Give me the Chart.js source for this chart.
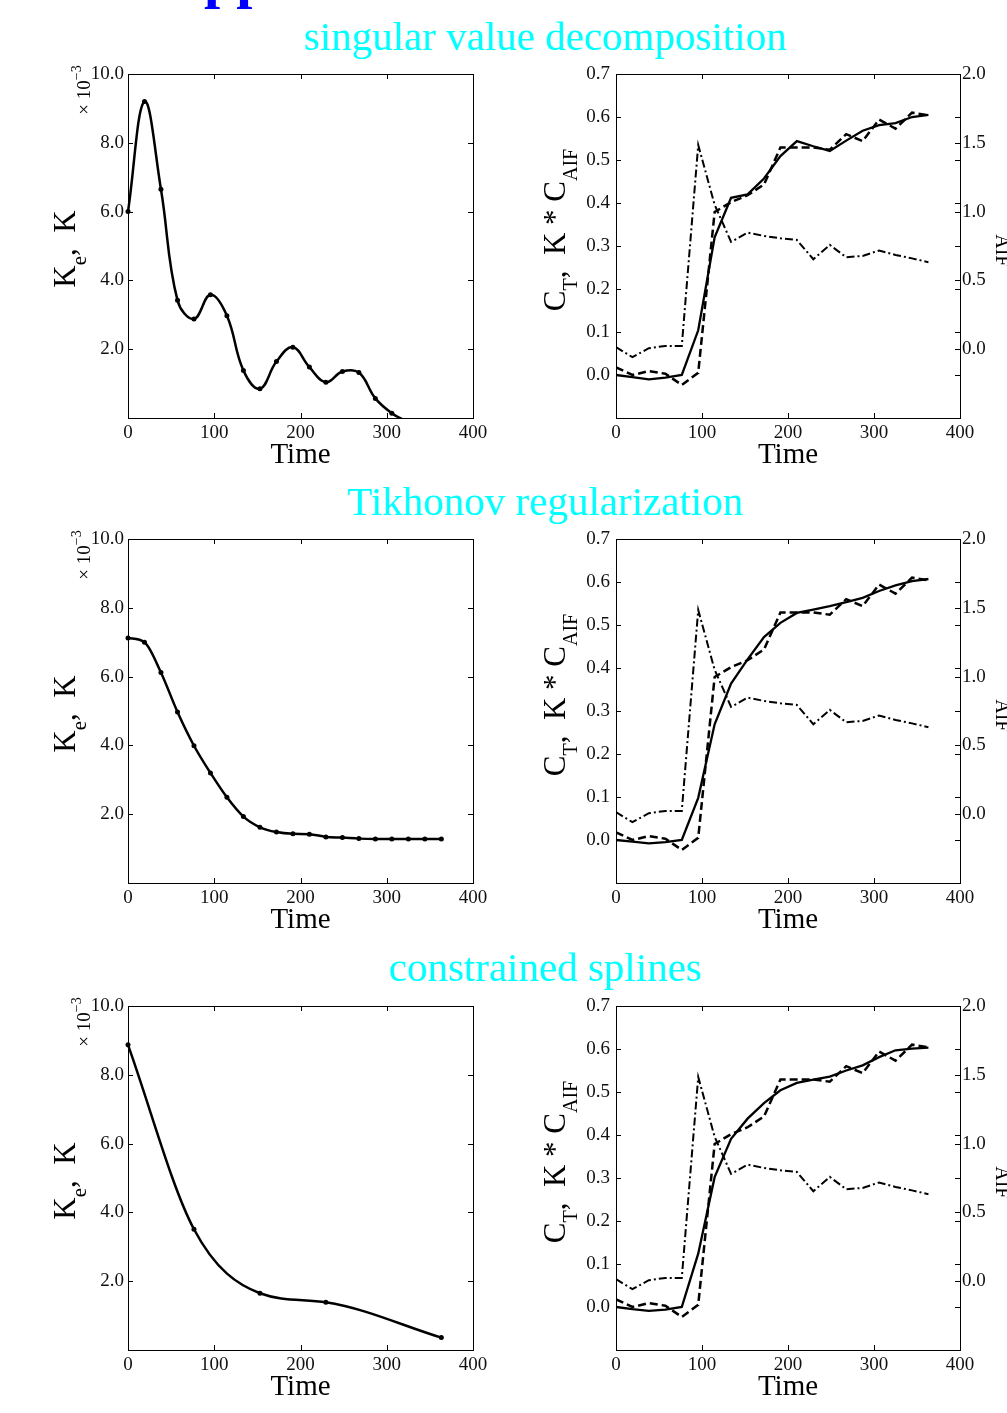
<!DOCTYPE html>
<html>
<head>
<meta charset="utf-8">
<script src="https://cdn.jsdelivr.net/npm/chart.js@4.4.1/dist/chart.umd.min.js"></script>
<style>
    html, body { margin: 0; padding: 0; background: #fff; }
    body { position: relative; width: 1007px; height: 1413px; overflow: hidden; }
    canvas { position: absolute; }
    .title {
        position: absolute;
        left: 545px;
        transform: translateX(-50%);
        white-space: nowrap;
        font-family: 'Liberation Serif', 'Times New Roman', serif;
        font-size: 41px;
        line-height: 41px;
        color: #00ffff;
    }
    .banner {
        position: absolute;
        left: 204px;
        top: -51px;
        white-space: nowrap;
        font-family: 'Liberation Serif', 'Times New Roman', serif;
        font-weight: bold;
        font-size: 58px;
        line-height: 58px;
        color: #0000ff;
    }
</style>
</head>
<body>
<div class="banner">pp</div>
<div class="title" style="top: 16px;">singular value decomposition</div>
<div class="title" style="top: 481px;">Tikhonov regularization</div>
<div class="title" style="top: 947px;">constrained splines</div>

<canvas id="svd-k" width="453" height="408" style="left: 40px; top: 62px;"></canvas>
<canvas id="svd-ct" width="477" height="408" style="left: 530px; top: 62px;"></canvas>
<canvas id="tik-k" width="453" height="408" style="left: 40px; top: 527px;"></canvas>
<canvas id="tik-ct" width="477" height="408" style="left: 530px; top: 527px;"></canvas>
<canvas id="spl-k" width="453" height="408" style="left: 40px; top: 994px;"></canvas>
<canvas id="spl-ct" width="477" height="408" style="left: 530px; top: 994px;"></canvas>

<script>
'use strict';

// sampling times shared by every panel
var times = [0, 19.1, 38.2, 57.4, 76.5, 95.6, 114.7, 133.8, 153, 172.1,
    191.2, 210.3, 229.4, 248.6, 267.7, 286.8, 305.9, 325, 344.2, 363.3];

// residue functions K (x 10^-3)
var svdK = [6.0, 9.2, 6.65, 3.42, 2.88, 3.58, 2.97, 1.38, 0.85, 1.64,
    2.06, 1.48, 1.04, 1.35, 1.32, 0.57, 0.14, -0.12, -0.35, -0.3];
var tikhonovK = [7.12, 7.0, 6.12, 4.97, 3.99, 3.2, 2.49, 1.93, 1.62, 1.48,
    1.43, 1.42, 1.34, 1.32, 1.29, 1.28, 1.28, 1.28, 1.28, 1.28];
var splineKnotTimes = [0, 76.5, 153, 229.4, 363.3];
var splineK = [8.87, 3.51, 1.65, 1.39, 0.36];

// measured tissue curve and arterial input
var measuredCT = [0.018, 0.0, 0.009, 0.003, -0.023, 0.005, 0.379, 0.402, 0.418, 0.443,
    0.529, 0.529, 0.529, 0.524, 0.56, 0.544, 0.594, 0.573, 0.61, 0.604];
var aifC = [0.015, -0.058, 0.007, 0.024, 0.024, 1.484, 1.05, 0.78, 0.847, 0.823,
    0.806, 0.794, 0.654, 0.758, 0.668, 0.678, 0.717, 0.685, 0.66, 0.632];

// fitted K * C_AIF for each method
var svdFit = [0.0, -0.005, -0.01, -0.006, 0.0, 0.104, 0.32, 0.412, 0.42, 0.457,
    0.509, 0.544, 0.532, 0.521, 0.545, 0.568, 0.581, 0.586, 0.6, 0.605];
var tikhonovFit = [0.0, -0.004, -0.008, -0.005, 0.0, 0.098, 0.269, 0.364, 0.42, 0.472,
    0.505, 0.528, 0.536, 0.544, 0.553, 0.563, 0.579, 0.592, 0.602, 0.607];
var splineFit = [0.0, -0.005, -0.009, -0.006, 0.0, 0.124, 0.302, 0.391, 0.438, 0.474,
    0.504, 0.521, 0.529, 0.536, 0.55, 0.562, 0.581, 0.597, 0.601, 0.603];

// tick values
var timeTicks = [0, 100, 200, 300, 400];
var kTicks = [2, 4, 6, 8, 10];
var ctTicks = [0, 0.1, 0.2, 0.3, 0.4, 0.5, 0.6, 0.7];
var aifTicks = [0, 0.5, 1, 1.5, 2];

var SERIF = "'Liberation Serif', 'Times New Roman', serif",
    TICK_FONT = { family: SERIF, size: 19 },
    TICK_COLOR = '#111',
    TICK_LEN = 5;

var toPoints = function (xs, ys) {
        return xs.map(function (x, i) { return { x: x, y: ys[i] }; });
    },

    fixedTicks = function (values) {
        return function (scale) {
            scale.ticks = values.map(function (v) { return { value: v }; });
        };
    },

    // keep the plot box where the layout padding puts it
    noOverflow = function (scale) {
        scale.paddingTop = 0;
        scale.paddingBottom = 0;
        scale.paddingLeft = 0;
        scale.paddingRight = 0;
    },

    // box around the plot with inward tick marks on both sides
    framePlugin = {
        id: 'matlabFrame',
        afterDatasetsDraw: function (chart) {
            var ctx = chart.ctx,
                a = chart.chartArea;

            ctx.save();
            ctx.strokeStyle = '#000';
            ctx.lineWidth = 1;
            ctx.strokeRect(Math.round(a.left) + 0.5, Math.round(a.top) + 0.5,
                Math.round(a.right - a.left), Math.round(a.bottom - a.top));
            ctx.beginPath();
            Object.keys(chart.scales).forEach(function (id) {
                var scale = chart.scales[id];
                scale.ticks.forEach(function (t) {
                    var p = Math.round(scale.getPixelForValue(t.value)) + 0.5;
                    if (scale.isHorizontal()) {
                        ctx.moveTo(p, a.bottom); ctx.lineTo(p, a.bottom - TICK_LEN);
                        ctx.moveTo(p, a.top); ctx.lineTo(p, a.top + TICK_LEN);
                    } else {
                        if (scale.position === 'left') {
                            ctx.moveTo(a.left, p); ctx.lineTo(a.left + TICK_LEN, p);
                        }
                        ctx.moveTo(a.right, p); ctx.lineTo(a.right - TICK_LEN, p);
                    }
                });
            });
            ctx.stroke();
            ctx.restore();
        }
    },

    // axis titles with sub/superscripts drawn as text runs
    labelsPlugin = function (items) {
        return {
            id: 'richLabels',
            afterDraw: function (chart) {
                var ctx = chart.ctx,
                    a = chart.chartArea;

                items.forEach(function (item) {
                    var x = item.h === 'left' ? a.left : item.h === 'right' ? a.right : (a.left + a.right) / 2,
                        y = item.v === 'top' ? a.top : item.v === 'bottom' ? a.bottom : (a.top + a.bottom) / 2,
                        widths = [],
                        total = 0,
                        cx;

                    ctx.save();
                    ctx.translate(x + item.dx, y + item.dy);
                    ctx.rotate(item.angle);
                    ctx.fillStyle = '#000';
                    ctx.textBaseline = 'alphabetic';
                    item.runs.forEach(function (r) {
                        ctx.font = r.size + 'px ' + SERIF;
                        widths.push(ctx.measureText(r.text).width);
                        total += widths[widths.length - 1];
                    });
                    cx = -total / 2;
                    item.runs.forEach(function (r, i) {
                        ctx.font = r.size + 'px ' + SERIF;
                        ctx.fillText(r.text, cx, r.shift || 0);
                        cx += widths[i];
                    });
                    ctx.restore();
                });
            }
        };
    },

    timeLabel = { h: 'center', v: 'bottom', dx: 0, dy: 45, angle: 0, runs: [{ text: 'Time', size: 29 }] },

    xScale = function () {
        return {
            type: 'linear',
            min: 0,
            max: 400,
            afterBuildTicks: fixedTicks(timeTicks),
            afterFit: function (scale) {
                noOverflow(scale);
                scale.height = 52;
            },
            grid: { display: false, drawTicks: false },
            border: { display: false },
            ticks: {
                font: TICK_FONT, color: TICK_COLOR, padding: 4, maxRotation: 0, autoSkip: false,
                callback: function (v) { return String(v); }
            }
        };
    },

    yScale = function (opts) {
        return {
            type: 'linear',
            position: opts.position,
            min: opts.min,
            max: opts.max,
            afterBuildTicks: fixedTicks(opts.ticks),
            afterFit: function (scale) {
                noOverflow(scale);
                scale.width = opts.width;
            },
            grid: { display: false, drawTicks: false },
            border: { display: false },
            ticks: {
                font: TICK_FONT, color: TICK_COLOR, padding: opts.padding, autoSkip: false,
                callback: function (v) { return Number(v).toFixed(1); }
            }
        };
    },

    baseOptions = function (scales) {
        return {
            responsive: false,
            animation: false,
            devicePixelRatio: 1,
            events: [],
            layout: { padding: { top: 12, right: scales.y2 ? 0 : 20, left: 0, bottom: 0 } },
            plugins: { legend: { display: false }, tooltip: { enabled: false } },
            scales: scales
        };
    },

    drawKChart = function (id, xs, ys, markers, mode) {
        new Chart(document.getElementById(id), {
            type: 'line',
            data: {
                datasets: [{
                    data: toPoints(xs, ys),
                    borderColor: '#000',
                    borderWidth: 2.5,
                    pointRadius: markers,
                    pointBackgroundColor: '#000',
                    pointBorderWidth: 0,
                    tension: 0.4,
                    cubicInterpolationMode: mode,
                    clip: { left: 5, top: 5, right: 5, bottom: 0 }
                }]
            },
            options: baseOptions({
                x: xScale(),
                y: yScale({ position: 'left', min: 0, max: 10, ticks: kTicks, width: 88, padding: 4 })
            }),
            plugins: [framePlugin, labelsPlugin([
                timeLabel,
                { h: 'left', v: 'middle', dx: -53, dy: 3, angle: -Math.PI / 2,
                    runs: [{ text: 'K', size: 31 }, { text: 'e', size: 21, shift: 11 }, { text: ',  K', size: 31 }] },
                { h: 'left', v: 'top', dx: -38, dy: 16, angle: -Math.PI / 2,
                    runs: [{ text: '\u00d7 10', size: 19 }, { text: '\u22123', size: 14, shift: -9 }] }
            ])]
        });
    },

    drawFitChart = function (id, fit) {
        new Chart(document.getElementById(id), {
            type: 'line',
            data: {
                datasets: [{
                    data: toPoints(times, fit),
                    borderColor: '#000', borderWidth: 2.3, pointRadius: 0, tension: 0,
                    yAxisID: 'y'
                }, {
                    data: toPoints(times, measuredCT),
                    borderColor: '#000', borderWidth: 2.5, borderDash: [8, 4], pointRadius: 0, tension: 0,
                    yAxisID: 'y'
                }, {
                    data: toPoints(times, aifC),
                    borderColor: '#000', borderWidth: 2, borderDash: [8, 3, 2, 3], pointRadius: 0, tension: 0,
                    yAxisID: 'y2'
                }]
            },
            options: baseOptions({
                x: xScale(),
                y: yScale({ position: 'left', min: -0.1, max: 0.7, ticks: ctTicks, width: 86, padding: 6 }),
                y2: yScale({ position: 'right', min: -0.5, max: 2, ticks: aifTicks, width: 47, padding: 2 })
            }),
            plugins: [framePlugin, labelsPlugin([
                timeLabel,
                { h: 'left', v: 'middle', dx: -51, dy: -16, angle: -Math.PI / 2,
                    runs: [{ text: 'C', size: 31 }, { text: 'T', size: 20, shift: 12 },
                        { text: ',  K * C', size: 31 }, { text: 'AIF', size: 20, shift: 12 }] },
                { h: 'right', v: 'middle', dx: 48, dy: -6, angle: Math.PI / 2,
                    runs: [{ text: 'C', size: 31 }, { text: 'AIF', size: 20, shift: 12 }] }
            ])]
        });
    };

drawKChart('svd-k', times, svdK, 2.5, 'default');
drawFitChart('svd-ct', svdFit);
drawKChart('tik-k', times, tikhonovK, 2.5, 'monotone');
drawFitChart('tik-ct', tikhonovFit);
drawKChart('spl-k', splineKnotTimes, splineK, 2.5, 'monotone');
drawFitChart('spl-ct', splineFit);
</script>
</body>
</html>
